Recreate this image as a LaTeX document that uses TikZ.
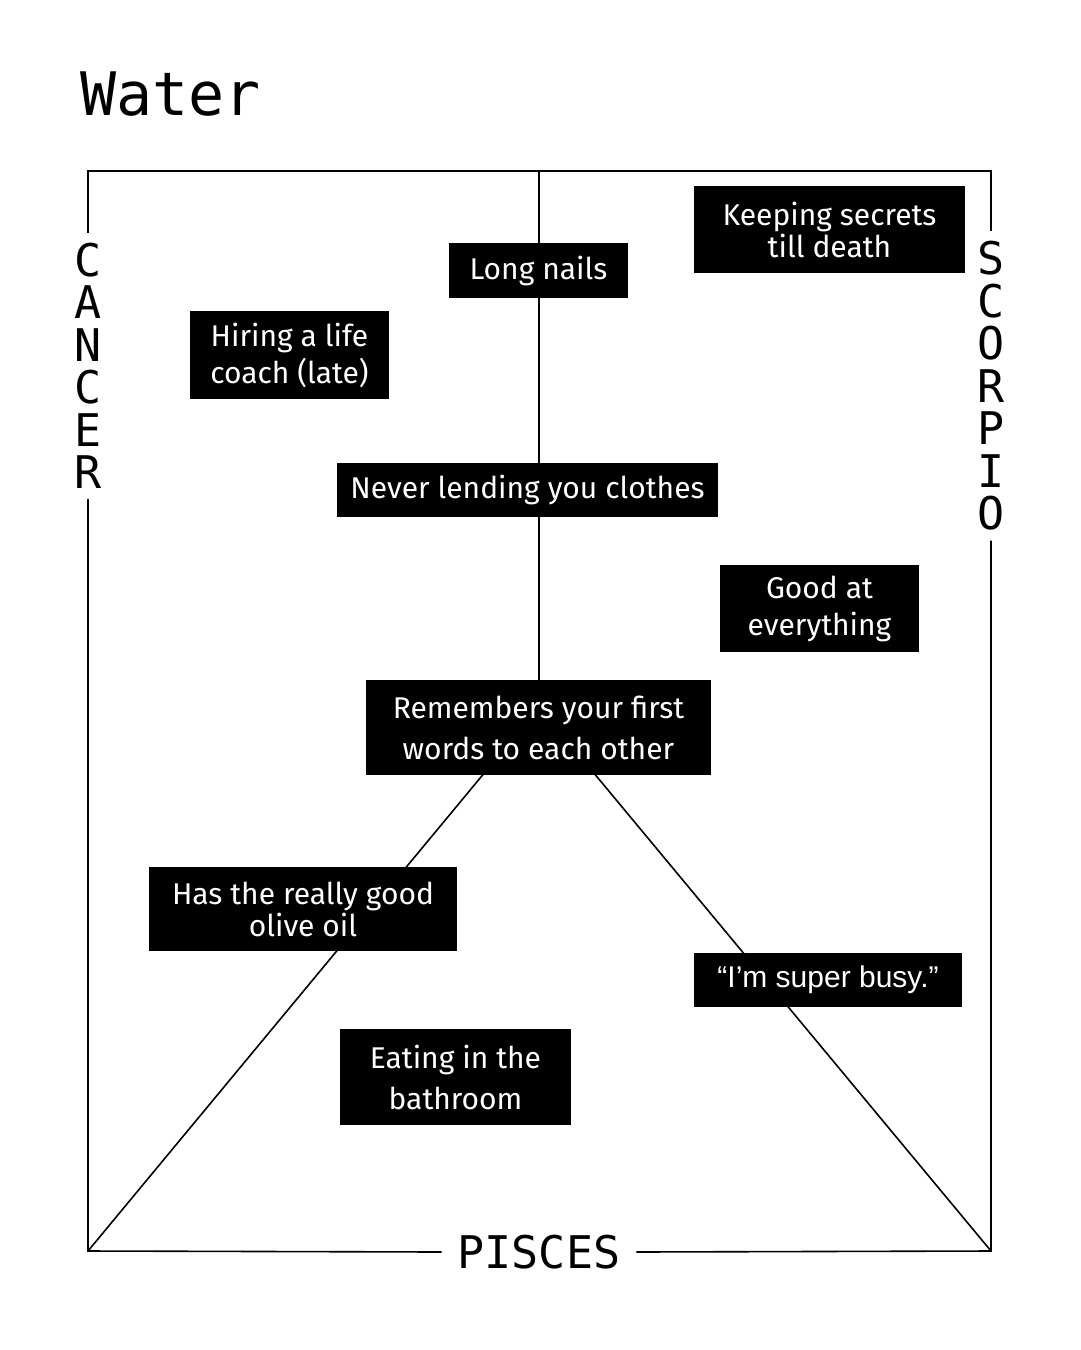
\documentclass[tikz,border=0pt]{standalone}
\usepackage{fontspec}
\setmainfont{Fira Sans}
\newfontfamily\monofont{DejaVu Sans Mono}
\newfontfamily\helvfont{Liberation Sans}
\usetikzlibrary{backgrounds}

\begin{document}
\begin{tikzpicture}[x=1pt,y=-1pt,
        tag/.style={fill=black,text=white,align=center,inner sep=0pt,font=\fontsize{30}{37}\selectfont},
        sign/.style={align=center,inner xsep=0pt,inner ysep=10pt,font=\monofont\fontsize{45}{42.5}\selectfont},
        edge/.style={line width=1.6pt}]

                \useasboundingbox (0,0) rectangle (1080,1350);

                \coordinate (tl) at (88,171);
                \coordinate (tr) at (991,171);
                \coordinate (bl) at (88,1251);
                \coordinate (br) at (991,1251);
                \coordinate (tm) at (539,171);
                \coordinate (apex) at (539,707);

                \node [anchor=base west,inner sep=0pt,font=\monofont\fontsize{60}{60}\selectfont] (title) at (80,115) {Water};

                \node [sign] (cancer) at (88,366) {C\\A\\N\\C\\E\\R};
                \node [sign] (scorpio) at (991,386) {S\\C\\O\\R\\P\\I\\O};
                \node [sign,inner xsep=16pt,inner ysep=0pt] (pisces) at (539,1252) {PISCES};

                \draw[edge] (cancer.north) -- (tl) -- (tr) -- (scorpio.north);
                \draw[edge] (cancer.south) -- (bl) -- (pisces.west);
                \draw[edge] (pisces.east) -- (br) -- (scorpio.south);

                \node [tag,minimum width=179,minimum height=55] (nails) at (538.5,270.5) {Long nails};
                \node [tag,minimum width=271,minimum height=87,font=\fontsize{30}{32}\selectfont] (secrets) at (829.5,229.5) {Keeping secrets\\till death};
                \node [tag,minimum width=199,minimum height=88] (coach) at (289.5,355) {Hiring a life\\coach (late)};
                \node [tag,minimum width=381,minimum height=54] (clothes) at (527.5,490) {Never lending you clothes};
                \node [tag,minimum width=199,minimum height=87] (good) at (819.5,608.5) {Good at\\everything};
                \node [tag,minimum width=345,minimum height=95,font=\fontsize{30}{41}\selectfont] (first) at (538.5,727.5) {Remembers your first\\words to each other};
                \node [tag,minimum width=308,minimum height=84,font=\fontsize{30}{32}\selectfont] (oil) at (303,909) {Has the really good\\olive oil};
                \node [tag,minimum width=268,minimum height=54,font=\helvfont\fontsize{30}{32}\selectfont] (busy) at (828,980) {“I’m super busy.”};
                \node [tag,minimum width=231,minimum height=96,font=\fontsize{30}{41}\selectfont] (bathroom) at (455.5,1077) {Eating in the\\bathroom};

                \begin{scope}[on background layer]
                \fill[white] (0,0) rectangle (1080,1350);
                \draw[edge] (tm) -- (apex);
                \draw[edge] (bl) -- (apex) -- (br);
                \end{scope}

\end{tikzpicture}
\end{document}
